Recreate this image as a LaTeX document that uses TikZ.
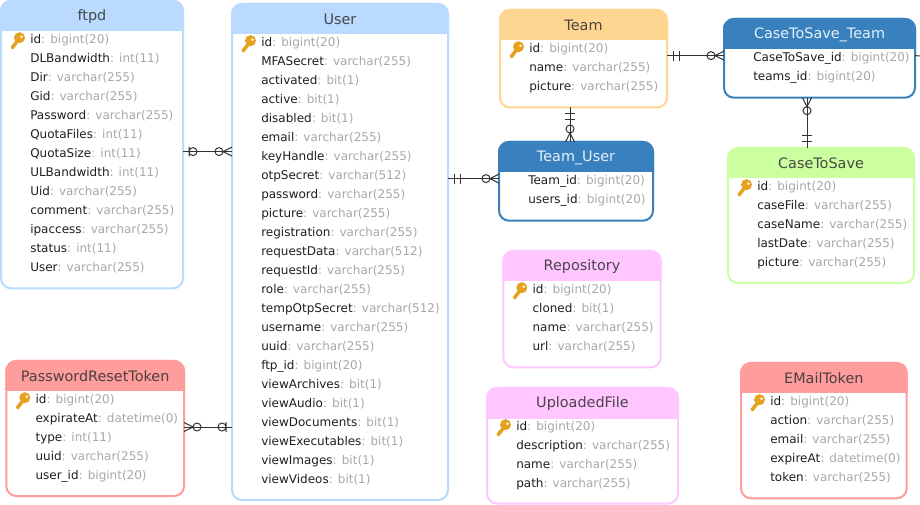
\documentclass[tikz,border=0pt]{standalone}
\usepackage{fontspec}
\setmainfont{DejaVu Sans}
\usetikzlibrary{decorations.markings}

\definecolor{ftpdblue}{HTML}{BBDAFF}
\definecolor{darkblue}{HTML}{3881BE}
\definecolor{teamorange}{HTML}{FFD592}
\definecolor{savegreen}{HTML}{CBFFA0}
\definecolor{repopink}{HTML}{FFC6FF}
\definecolor{tokenred}{HTML}{FF9C9C}
\definecolor{keygold}{HTML}{E6A11F}
\definecolor{titlegray}{HTML}{333333}
\definecolor{typegray}{HTML}{A8A8A8}

\tikzset{
    entitybox/.style={draw, fill=white, line width=1.5pt, rounded corners=7.5pt, inner sep=0, outer sep=0},
    entitytitle/.style={font=\fontsize{10.8}{12}\selectfont, inner sep=0, text opacity=.88},
    entityrow/.style={anchor=base west, font=\fontsize{9}{11}\selectfont, text=black!88, inner sep=0, text height=8.4pt, text depth=0pt},
    rel/.style={draw=titlegray, line width=.75pt},
    startmark/.style={postaction={decorate, decoration={markings, mark=at position 0 with {#1}}}},
    endmark/.style={postaction={decorate, decoration={markings, mark=at position 1 with {\begin{scope}[xscale=-1]#1\end{scope}}}}},
    pkey/.pic={
        \fill[keygold, even odd rule] (-10.5,-5.5) circle (5.5) (-8.5,-6.5) circle (1.6);
        \fill[keygold] (-13,-4.5) -- (-10.5,-2) -- (-16.5,5.7) -- (-18.5,6) -- (-19.3,3.5) -- cycle;
    }
}

\newcommand{\twobars}{\draw (6,-5) -- (6,5) (12,-5) -- (12,5);}
\newcommand{\zerobar}{\draw (6,-5) -- (6,5) (10,0) circle (4);}
\newcommand{\zerocrow}{\draw (0,-4.5) -- (9,0) -- (0,4.5) (13,0) circle (4);}

\newcommand{\entity}[9]{
    \node[entitybox, draw=#7, minimum width={(#5-#3)*.75pt}, minimum height={(#6-#4)*.75pt}]
        (#1) at ({(#3+#5)/2},{(#4+#6)/2}) {};
    \begin{scope}
        \clip (#3-2,#4-2) rectangle (#5+2,#4+30);
        \filldraw[#7, line width=1.5pt, rounded corners=7.5pt] (#3,#4) rectangle (#5,#6);
    \end{scope}
    \node[entitytitle, text=#8] (#1-title) at ({(#3+#5)/2},#4+15.5) {#2};
    \foreach \field/\ftype [count=\i from 0] in {#9} {
        \node[entityrow] (#1-\i) at (#3+29,#4+42.2+19*\i) {\field\textcolor{typegray}{: \ftype}};
    }
}

\begin{document}
\begin{tikzpicture}[x=.75pt, y=-.75pt]
    \useasboundingbox (0,0) rectangle (920,505);

    \entity{ftpd}{ftpd}{1}{1}{183}{288.3}{ftpdblue}{titlegray}{id/bigint(20), DLBandwidth/int(11), Dir/varchar(255), Gid/varchar(255), Password/varchar(255), QuotaFiles/int(11), QuotaSize/int(11), ULBandwidth/int(11), Uid/varchar(255), comment/varchar(255), ipaccess/varchar(255), status/int(11), User/varchar(255)}
    \entity{User}{User}{232}{4}{448}{500}{ftpdblue}{titlegray}{id/bigint(20), MFASecret/varchar(255), activated/bit(1), active/bit(1), disabled/bit(1), email/varchar(255), keyHandle/varchar(255), otpSecret/varchar(512), password/varchar(255), picture/varchar(255), registration/varchar(255), requestData/varchar(512), requestId/varchar(255), role/varchar(255), tempOtpSecret/varchar(512), username/varchar(255), uuid/varchar(255), ftp\_id/bigint(20), viewArchives/bit(1), viewAudio/bit(1), viewDocuments/bit(1), viewExecutables/bit(1), viewImages/bit(1), viewVideos/bit(1)}
    \entity{Team}{Team}{500}{10}{667}{107.5}{teamorange}{titlegray}{id/bigint(20), name/varchar(255), picture/varchar(255)}
    \entity{TeamUser}{Team\_User}{499}{142}{653}{220.7}{darkblue}{white}{Team\_id/bigint(20), users\_id/bigint(20)}
    \entity{SaveTeam}{CaseToSave\_Team}{724}{19}{915}{97.7}{darkblue}{white}{CaseToSave\_id/bigint(20), teams\_id/bigint(20)}
    \entity{CaseToSave}{CaseToSave}{728}{148}{914}{283}{savegreen}{titlegray}{id/bigint(20), caseFile/varchar(255), caseName/varchar(255), lastDate/varchar(255), picture/varchar(255)}
    \entity{Repository}{Repository}{503.3}{251}{660.7}{367.3}{repopink}{titlegray}{id/bigint(20), cloned/bit(1), name/varchar(255), url/varchar(255)}
    \entity{UploadedFile}{UploadedFile}{487}{388}{678}{503.5}{repopink}{titlegray}{id/bigint(20), description/varchar(255), name/varchar(255), path/varchar(255)}
    \entity{EMailToken}{EMailToken}{741}{363}{906.7}{498.3}{tokenred}{titlegray}{id/bigint(20), action/varchar(255), email/varchar(255), expireAt/datetime(0), token/varchar(255)}
    \entity{ResetToken}{PasswordResetToken}{6.3}{361}{184}{496}{tokenred}{titlegray}{id/bigint(20), expirateAt/datetime(0), type/int(11), uuid/varchar(255), user\_id/bigint(20)}

    \pic at (ftpd-0.base west) {pkey};
    \pic at (User-0.base west) {pkey};
    \pic at (Team-0.base west) {pkey};
    \pic at (CaseToSave-0.base west) {pkey};
    \pic at (Repository-0.base west) {pkey};
    \pic at (UploadedFile-0.base west) {pkey};
    \pic at (EMailToken-0.base west) {pkey};
    \pic at (ResetToken-0.base west) {pkey};

    \coordinate (resetlink) at (208,427);
    \coordinate (teamlink) at (570,124);
    \coordinate (savelink) at (807,122);
    \coordinate (cutoff) at (920,56);

    \path[rel, startmark=\zerobar, endmark=\zerocrow] (ftpd.east |- ftpd-6) -- (User.west |- ftpd-6);
    \path[rel, startmark=\zerocrow, endmark=\zerobar] (ResetToken.east |- resetlink) -- (User.west |- resetlink);
    \path[rel, startmark=\twobars, endmark=\zerocrow] (User.east |- TeamUser-0) -- (TeamUser.west |- TeamUser-0);
    \path[rel, startmark=\twobars, endmark=\zerocrow] (Team.south -| teamlink) -- (TeamUser.north -| teamlink);
    \path[rel, startmark=\twobars, endmark=\zerocrow] (Team.east |- SaveTeam-0) -- (SaveTeam.west |- SaveTeam-0);
    \path[rel, startmark=\zerocrow, endmark=\twobars] (SaveTeam.south -| savelink) -- (CaseToSave.north -| savelink);
    \path[rel] (SaveTeam.east |- SaveTeam-0) -- (cutoff);
\end{tikzpicture}
\end{document}
